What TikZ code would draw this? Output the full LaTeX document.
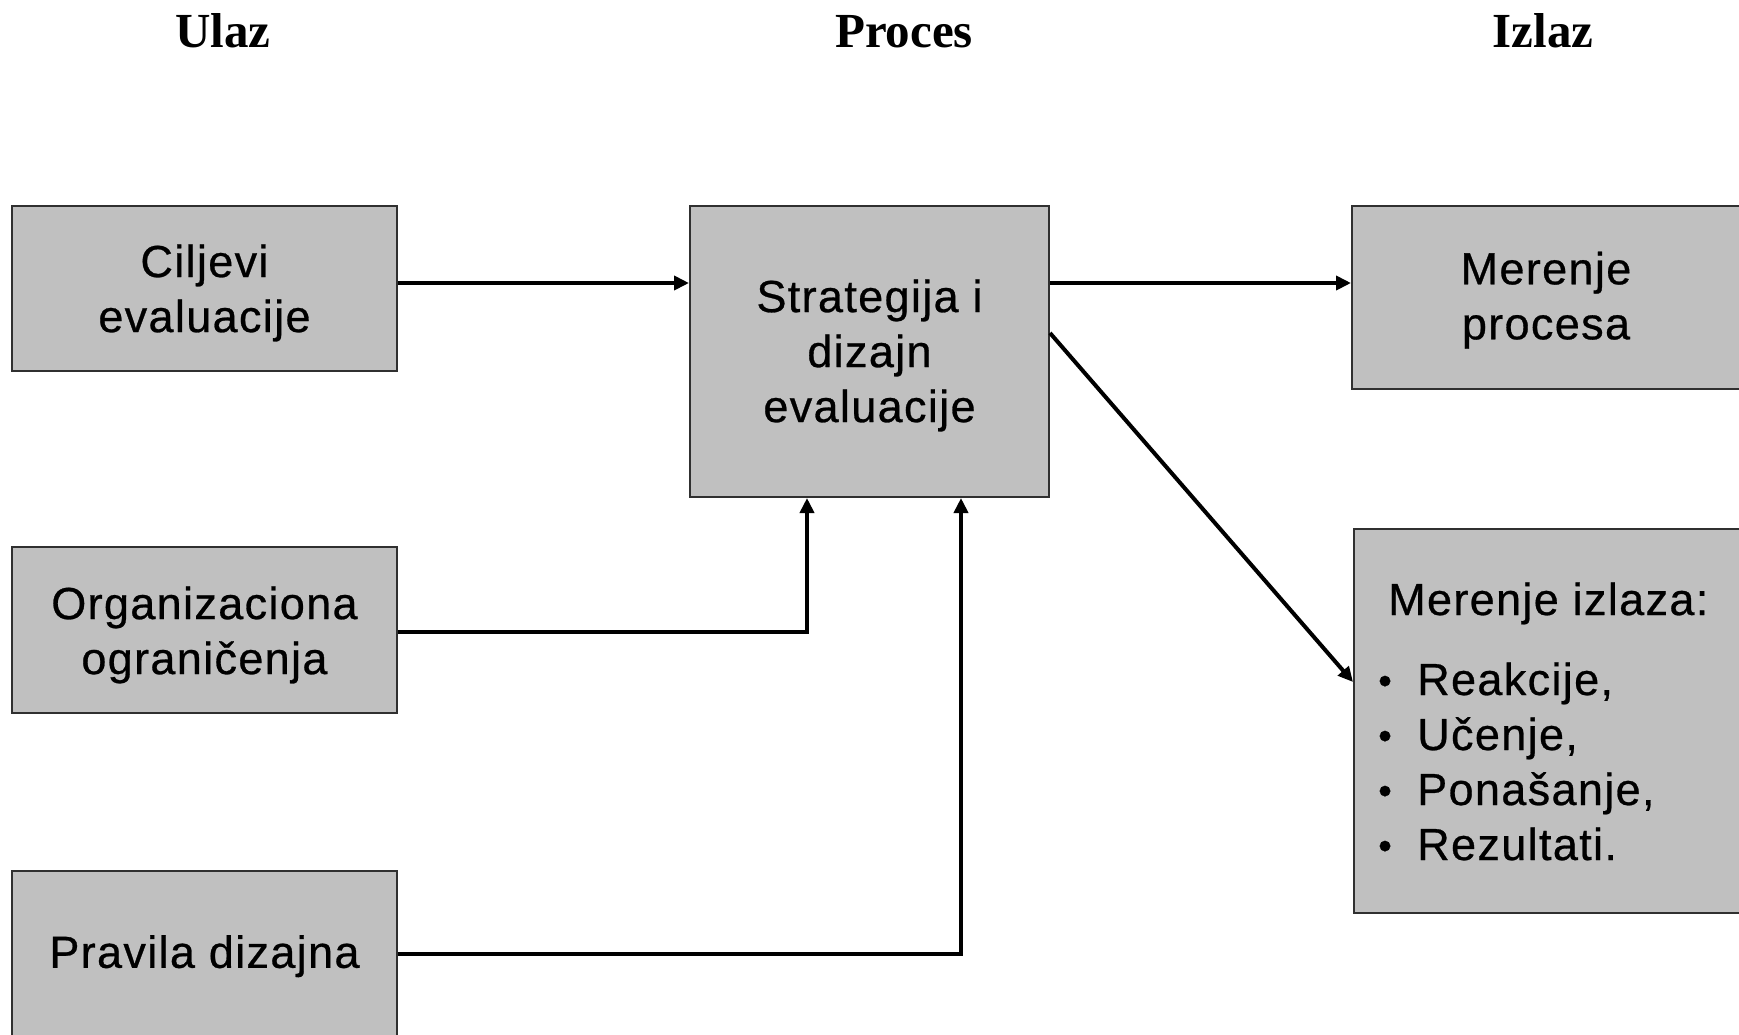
\documentclass[tikz,border=0pt]{standalone}
\usepackage{fontspec}
\usetikzlibrary{arrows.meta,calc}
\newfontfamily\boxfont{Liberation Sans}[LetterSpace=3,FakeBold=0.6]
\newfontfamily\headfont{Liberation Serif}
\definecolor{boxgray}{HTML}{C0C0C0}
\definecolor{edgegray}{HTML}{303030}
\newcommand{\blt}{\makebox[39pt][l]{\raisebox{1pt}{\fontsize{39}{39}\selectfont •}}}
\newcommand{\up}[1]{\rule{0pt}{#1pt}}
\tikzset{
  block/.style={draw=edgegray,line width=2pt,fill=boxgray,inner sep=0pt,align=center,
    font=\boxfont\fontsize{45}{55}\selectfont},
  head/.style={font=\headfont\bfseries\fontsize{49}{55}\selectfont,anchor=base},
  arr/.style={line width=4pt,-{Triangle[length=15pt,width=14pt]}},
}
\begin{document}
\begin{tikzpicture}[x=1pt,y=-1pt]
\useasboundingbox (0,0) rectangle (1739,1034);
% headings
\node[head] (hin) at (223,47) {Ulaz};
\node[head] (hpr) at (904,47) {Proces};
\node[head] (hout) at (1543,47) {Izlaz};
% input boxes
\node[block,minimum width=385pt,minimum height=165pt] (cil) at (204.5,288.5) {\up{41.5}Ciljevi\\evaluacije};
\node[block,minimum width=385pt,minimum height=166pt] (org) at (204.5,630) {\up{42.5}Organizaciona\\ograničenja};
\node[block,minimum width=385pt,minimum height=166pt,text depth=4pt] (pra) at (204.5,953.5) {Pravila dizajna};
% process
\node[block,minimum width=359pt,minimum height=291pt] (str) at (869.5,351.5) {\up{40.5}Strategija i\\dizajn\\evaluacije};
% outputs
\node[block,minimum width=388pt,minimum height=183pt] (proc) at (1546,297.5) {\up{38}Merenje\\procesa};
\node[block,minimum width=392pt,minimum height=384pt] (out) at (1550,721) {};
\node[anchor=base west,inner sep=0pt,align=left,font=\boxfont\fontsize{45}{55}\selectfont] (outtxt) at (1378,860)
  {\hspace{10pt}Merenje izlaza:\\[25pt]
   \blt Reakcije,\\
   \blt Učenje,\\
   \blt Ponašanje,\\
   \blt Rezultati.};
% connectors
\draw[arr] ([yshift=5.5pt]cil.east) -- ([yshift=5.5pt]cil.east -| str.west);
\draw[arr] ([yshift=14.5pt]proc.west -| str.east) -- ([yshift=14.5pt]proc.west);
\draw[arr] ([yshift=18.5pt]str.east) -- ([yshift=39pt]out.west);
\draw[arr] ([yshift=-2pt]org.east) -| ([xshift=-62.5pt]str.south);
\draw[arr] (pra.east) -| ([xshift=91.5pt]str.south);
\end{tikzpicture}
\end{document}
